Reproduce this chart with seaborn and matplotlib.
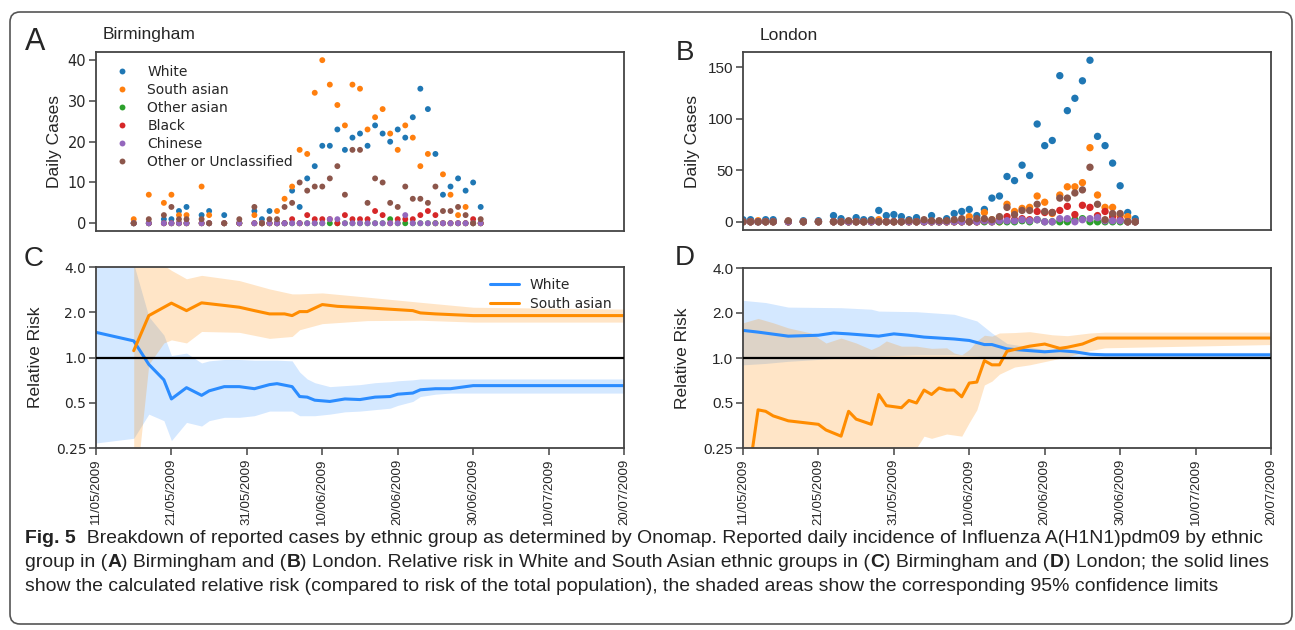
import pandas as pd
import seaborn as sns
import matplotlib.pyplot as plt
from matplotlib import font_manager
from matplotlib.patches import FancyBboxPatch
from matplotlib.transforms import IdentityTransform

W, H = 1295, 630
START = pd.Timestamp('2009-05-11')

groups = ['White', 'South asian', 'Other asian', 'Black', 'Chinese', 'Other or Unclassified']
group_colors = ['#1f77b4', '#ff7f0e', '#2ca02c', '#d62728', '#9467bd', '#8c564b']

# Birmingham daily cases (day = days after 11/05/2009)
bham_days = [5, 7, 9, 10, 11, 12, 14, 15, 17, 19, 21, 22, 23, 24, 25, 26, 27, 28, 29, 30, 31,
             32, 33, 34, 35, 36, 37, 38, 39, 40, 41, 42, 43, 44, 45, 46, 47, 48, 49, 50, 51]
bham_white = [0, 0, 1, 1, 3, 4, 2, 3, 2, 0, 3, 1, 3, 0, 0, 8, 4, 11, 14, 19, 19,
              23, 18, 21, 22, 19, 24, 22, 20, 23, 21, 26, 33, 28, 17, 7, 9, 11, 8, 10, 4]
bham_sasian = [1, 7, 5, 7, 2, 2, 9, 2, 0, 0, 2, 0, 0, 3, 6, 9, 18, 17, 32, 40, 34,
               29, 24, 34, 33, 23, 26, 28, 22, 18, 24, 21, 14, 17, 0, 12, 7, 2, 4, 0, 0]
bham_oasian = [0, 0, 0, 0, 0, 0, 0, 0, 0, 0, 0, 0, 0, 0, 0, 0, 0, 0, 0, 0, 0,
               0, 0, 0, 0, 0, 0, 0, 1, 0, 0, 0, 0, 0, 0, 0, 0, 0, 0, 0, 0]
bham_black = [0, 0, 0, 0, 0, 0, 0, 0, 0, 0, 0, 0, 0, 0, 0, 1, 0, 2, 1, 1, 1,
              0, 2, 1, 1, 1, 3, 2, 0, 1, 1, 1, 2, 3, 2, 0, 0, 0, 0, 1, 0]
bham_chinese = [0, 0, 0, 0, 0, 0, 0, 0, 0, 0, 0, 0, 0, 0, 0, 0, 0, 0, 0, 0, 1,
                1, 0, 0, 0, 0, 0, 0, 0, 0, 2, 0, 0, 0, 0, 0, 0, 0, 0, 0, 0]
bham_other = [0, 1, 2, 4, 1, 1, 1, 0, 0, 1, 4, 0, 1, 1, 4, 5, 10, 8, 9, 9, 11,
              14, 7, 18, 18, 5, 11, 10, 5, 4, 9, 6, 6, 5, 9, 3, 3, 4, 2, 0, 1]

# London daily cases
lon_days = [0, 1, 2, 3, 4, 6, 8, 10, 12, 13, 14, 15, 16, 17, 18, 19, 20, 21, 22, 23, 24, 25, 26,
            27, 28, 29, 30, 31, 32, 33, 34, 35, 36, 37, 38, 39, 40, 41, 42, 43, 44, 45, 46, 47,
            48, 49, 50, 51, 52]
lon_white = [2, 2, 0, 2, 2, 0, 1, 1, 6, 3, 0, 4, 2, 2, 11, 6, 7, 5, 2, 4, 0, 6, 0,
             3, 8, 10, 12, 6, 12, 23, 25, 44, 40, 55, 45, 95, 74, 79, 142, 108, 120, 137, 157, 83,
             74, 57, 35, 9, 3]
lon_sasian = [0, 0, 1, 0, 0, 0, 0, 0, 0, 0, 0, 0, 0, 0, 2, 0, 0, 0, 0, 0, 0, 0, 0,
              0, 0, 0, 5, 0, 9, 2, 0, 17, 10, 13, 14, 25, 19, 8, 26, 34, 34, 38, 72, 26,
              14, 14, 6, 5, 0]
lon_oasian = [0, 0, 0, 0, 0, 0, 0, 0, 0, 0, 0, 0, 0, 0, 0, 0, 0, 0, 0, 0, 0, 0, 0,
              0, 0, 0, 0, 0, 0, 0, 0, 0, 0, 1, 0, 2, 0, 0, 0, 0, 2, 3, 0, 0,
              0, 0, 0, 0, 0]
lon_black = [0, 0, 0, 0, 0, 0, 0, 0, 0, 0, 0, 0, 0, 0, 0, 0, 0, 0, 0, 0, 0, 0, 0,
             0, 0, 0, 0, 0, 1, 0, 3, 5, 2, 3, 2, 10, 9, 9, 11, 15, 7, 16, 14, 6,
             10, 5, 2, 0, 0]
lon_chinese = [0, 0, 0, 0, 0, 0, 0, 0, 0, 0, 0, 0, 0, 0, 0, 0, 0, 0, 0, 0, 0, 0, 0,
               0, 0, 0, 0, 0, 1, 0, 1, 1, 1, 2, 1, 2, 0, 0, 3, 3, 0, 2, 3, 4,
               1, 1, 1, 0, 0]
lon_other = [0, 0, 0, 0, 0, 1, 0, 0, 0, 0, 1, 0, 0, 1, 0, 0, 0, 0, 1, 0, 2, 1, 1,
             1, 2, 3, 0, 3, 3, 2, 5, 14, 7, 11, 11, 17, 10, 9, 23, 23, 28, 31, 53, 17,
             2, 8, 8, 0, 0]

# Relative risk, Birmingham
bw_days = [0, 5, 7, 9, 10, 12, 14, 15, 17, 19, 21, 23, 24, 26, 27, 28, 29, 31, 33, 35,
           37, 39, 40, 42, 43, 45, 47, 49, 50, 70]
bw_rr = [1.47, 1.29, 0.90, 0.71, 0.53, 0.63, 0.56, 0.60, 0.64, 0.64, 0.62, 0.66, 0.67, 0.64,
         0.55, 0.545, 0.52, 0.51, 0.53, 0.525, 0.545, 0.55, 0.57, 0.58, 0.61, 0.62, 0.62,
         0.64, 0.65, 0.65]
bw_lo = [0.27, 0.29, 0.42, 0.38, 0.28, 0.37, 0.35, 0.38, 0.40, 0.40, 0.41, 0.44, 0.44, 0.44,
         0.41, 0.41, 0.41, 0.42, 0.435, 0.44, 0.45, 0.46, 0.48, 0.51, 0.55, 0.57, 0.58, 0.58,
         0.58, 0.58]
bw_hi = [8.0, 4.2, 1.87, 1.41, 1.03, 1.07, 0.92, 0.95, 0.97, 0.97, 0.96, 0.96, 0.96, 0.95,
         0.80, 0.72, 0.68, 0.64, 0.65, 0.66, 0.68, 0.69, 0.70, 0.71, 0.72, 0.72, 0.72, 0.72,
         0.72, 0.72]
bs_days = [5, 7, 10, 12, 14, 17, 19, 21, 23, 25, 26, 27, 28, 30, 32, 36, 40, 42, 43, 45, 50, 70]
bs_rr = [1.11, 1.90, 2.30, 2.05, 2.31, 2.22, 2.16, 2.05, 1.95, 1.95, 1.90, 2.02, 2.02, 2.25,
         2.19, 2.14, 2.08, 2.05, 1.98, 1.95, 1.90, 1.90]
bs_band_days = [5, 6, 7, 9, 10, 12, 14, 19, 23, 26, 27, 30, 36, 43, 50, 70]
bs_lo = [0.10, 0.30, 0.90, 1.25, 1.31, 1.25, 1.49, 1.47, 1.34, 1.38, 1.53, 1.68, 1.76, 1.77,
         1.72, 1.72]
bs_hi = [6.0, 6.0, 6.0, 4.1, 3.8, 3.34, 3.52, 3.25, 2.86, 2.65, 2.65, 2.69, 2.52, 2.33, 2.16,
         2.10]

# Relative risk, London
lw_days = [0, 2, 6, 10, 12, 14, 18, 20, 22, 24, 28, 30, 32, 33, 35, 38, 40, 42, 44, 46, 48, 70]
lw_rr = [1.53, 1.49, 1.40, 1.42, 1.47, 1.45, 1.40, 1.45, 1.42, 1.38, 1.34, 1.31, 1.23, 1.23,
         1.15, 1.12, 1.10, 1.12, 1.10, 1.06, 1.05, 1.05]
lw_band_days = [0, 3, 6, 13, 17, 18, 23, 28, 31, 33, 35, 40, 46, 70]
lw_hi = [2.43, 2.35, 2.19, 2.17, 2.12, 2.06, 2.04, 1.96, 1.77, 1.47, 1.25, 1.14, 1.09, 1.09]
lw_lo = [0.90, 0.92, 0.95, 1.00, 1.02, 1.03, 1.05, 1.05, 1.03, 1.00, 0.98, 0.99, 1.02, 1.02]
ls_days = [1, 2, 3, 4, 6, 10, 11, 13, 14, 15, 17, 18, 19, 21, 22, 23, 24, 25, 26, 27, 28, 29,
           30, 31, 32, 33, 34, 35, 36, 38, 40, 42, 43, 45, 46, 47, 48, 70]
ls_rr = [0.20, 0.45, 0.44, 0.41, 0.38, 0.36, 0.33, 0.30, 0.44, 0.39, 0.36, 0.57, 0.48, 0.465,
         0.52, 0.50, 0.61, 0.57, 0.63, 0.61, 0.61, 0.55, 0.68, 0.69, 0.96, 0.90, 0.90, 1.11,
         1.14, 1.20, 1.24, 1.16, 1.18, 1.24, 1.30, 1.36, 1.36, 1.36]
ls_band_days = [0, 2, 4, 6, 9, 11, 13, 15, 17, 18, 19, 21, 23, 24, 25, 27, 28, 29, 30, 31, 32,
                33, 34, 36, 38, 41, 43, 46, 48, 70]
ls_hi = [1.72, 1.84, 1.72, 1.59, 1.47, 1.26, 1.36, 1.26, 1.14, 1.20, 1.30, 1.20, 1.20, 1.18,
         1.16, 1.17, 1.08, 1.05, 1.14, 1.30, 1.42, 1.40, 1.47, 1.48, 1.50, 1.43, 1.41, 1.47,
         1.49, 1.49]
ls_lo = [0.15, 0.15, 0.15, 0.15, 0.15, 0.15, 0.15, 0.15, 0.15, 0.15, 0.15, 0.15, 0.25, 0.30,
         0.29, 0.31, 0.305, 0.30, 0.37, 0.45, 0.66, 0.70, 0.78, 0.87, 0.90, 0.97, 1.02, 1.12,
         1.17, 1.23]

date_labels = ['11/05/2009', '21/05/2009', '31/05/2009', '10/06/2009',
               '20/06/2009', '30/06/2009', '10/07/2009', '20/07/2009']
rr_ticks = [0.25, 0.5, 1.0, 2.0, 4.0]
rr_labels = ['0.25', '0.5', '1.0', '2.0', '4.0']

caption = [
    [('Fig. 5', True), ('  Breakdown of reported cases by ethnic group as determined by Onomap. '
                        'Reported daily incidence of Influenza A(H1N1)pdm09 by ethnic', False)],
    [('group in (', False), ('A', True), (') Birmingham and (', False), ('B', True),
     (') London. Relative risk in White and South Asian ethnic groups in (', False), ('C', True),
     (') Birmingham and (', False), ('D', True), (') London; the solid lines', False)],
    [('show the calculated relative risk (compared to risk of the total population), the shaded '
      'areas show the corresponding 95% confidence limits', False)],
]

BLUE = '#2b8cff'
ORANGE = '#ff8c00'
SPINE = '#444444'
SANS = 'Liberation Sans'


def to_dates(days):
    return START + pd.to_timedelta(days, unit='D')


def long_cases(days, series):
    frames = [pd.DataFrame({'date': to_dates(days), 'cases': vals, 'group': g})
              for g, vals in zip(groups, series)]
    return pd.concat(frames, ignore_index=True)


def pick_font(names):
    for n in names:
        try:
            font_manager.findfont(font_manager.FontProperties(family=n), fallback_to_default=False)
            return n
        except Exception:
            pass
    return 'DejaVu Sans'


sns.set_theme(style='white')
plt.rcParams['font.family'] = ['DejaVu Sans']

fig = plt.figure(figsize=(W / 100, H / 100), dpi=100)


def axes_at(left, top, right, bottom):
    return fig.add_axes([left / W, 1 - bottom / H, (right - left) / W, (bottom - top) / H])


def style_axes(ax):
    for s in ax.spines.values():
        s.set_color(SPINE)
        s.set_linewidth(1.3)
    ax.tick_params(axis='both', which='both', direction='out', length=5, width=1.1,
                   color=SPINE, left=True, bottom=True, pad=2)
    ax.set_xlim(START, to_dates([70])[0])


tick_dates = pd.to_datetime(date_labels, format='%d/%m/%Y')

# ---- A: Birmingham daily cases
axA = axes_at(96, 52, 624, 231)
dfA = long_cases(bham_days, [bham_white, bham_sasian, bham_oasian, bham_black,
                             bham_chinese, bham_other])
sns.scatterplot(data=dfA, x='date', y='cases', hue='group', hue_order=groups,
                palette=group_colors, s=18, linewidth=0, ax=axA)
style_axes(axA)
axA.set_ylim(-1.9, 42)
axA.set_yticks([0, 10, 20, 30, 40])
axA.set_xticks([])
axA.set_xlabel('')
axA.set_ylabel('Daily Cases', fontsize=12.5, family=SANS)
axA.yaxis.set_label_coords(-0.064, 0.5)
axA.tick_params(axis='y', labelsize=10.5)
legA = axA.get_legend()
axA.legend(legA.legend_handles, [t.get_text() for t in legA.texts], loc='upper left',
           frameon=False, fontsize=10, labelspacing=0.3, handletextpad=0.8)

# ---- B: London daily cases
axB = axes_at(743, 52, 1271, 230)
dfB = long_cases(lon_days, [lon_white, lon_sasian, lon_oasian, lon_black,
                            lon_chinese, lon_other])
sns.scatterplot(data=dfB, x='date', y='cases', hue='group', hue_order=groups,
                palette=group_colors, s=28, linewidth=0, legend=False, ax=axB)
style_axes(axB)
axB.set_ylim(-8, 165)
axB.set_yticks([0, 50, 100, 150])
axB.set_xticks([])
axB.set_xlabel('')
axB.set_ylabel('Daily Cases', fontsize=12.5, family=SANS)
axB.yaxis.set_label_coords(-0.081, 0.5)
axB.tick_params(axis='y', labelsize=11)
for t in axB.get_yticklabels():
    t.set_family(SANS)


def rr_panel(ax, w_days, w_rr, w_bd, w_lo, w_hi, s_days, s_rr, s_bd, s_lo, s_hi, legend):
    ax.fill_between(to_dates(w_bd), w_lo, w_hi, color=BLUE, alpha=0.2, lw=0)
    ax.fill_between(to_dates(s_bd), s_lo, s_hi, color=ORANGE, alpha=0.22, lw=0)
    df = pd.concat([pd.DataFrame({'date': to_dates(w_days), 'rr': w_rr, 'group': 'White'}),
                    pd.DataFrame({'date': to_dates(s_days), 'rr': s_rr, 'group': 'South asian'})],
                   ignore_index=True)
    sns.lineplot(data=df, x='date', y='rr', hue='group', hue_order=['White', 'South asian'],
                 palette=[BLUE, ORANGE], linewidth=2.2, errorbar=None, legend=legend, ax=ax)
    ax.axhline(1.0, color='black', lw=1.6, zorder=3)
    style_axes(ax)
    ax.set_yscale('log', base=2)
    ax.set_ylim(0.25, 4.0)
    ax.set_yticks(rr_ticks)
    ax.set_yticklabels(rr_labels)
    ax.minorticks_off()
    ax.set_xticks(tick_dates)
    ax.set_xticklabels(date_labels, rotation=90, family=SANS, fontsize=9.5)
    ax.tick_params(axis='x', pad=2.5)
    ax.set_xlabel('')
    ax.set_ylabel('Relative Risk', fontsize=12.5, family=SANS)
    ax.yaxis.set_label_coords(-0.100, 0.5)


# ---- C: Birmingham relative risk
axC = axes_at(96, 267, 624, 448)
rr_panel(axC, bw_days, bw_rr, bw_days, bw_lo, bw_hi, bs_days, bs_rr, bs_band_days, bs_lo, bs_hi,
         legend=True)
axC.tick_params(axis='y', labelsize=10)
legC = axC.get_legend()
axC.legend(legC.legend_handles, [t.get_text() for t in legC.texts], loc='upper right',
           frameon=False, fontsize=10, handlelength=2.1, labelspacing=0.35,
           bbox_to_anchor=(1.0, 1.01))

# ---- D: London relative risk
axD = axes_at(743, 268, 1271, 448)
rr_panel(axD, lw_days, lw_rr, lw_band_days, lw_lo, lw_hi, ls_days, ls_rr, ls_band_days, ls_lo,
         ls_hi, legend=False)
axD.tick_params(axis='y', labelsize=11)
for t in axD.get_yticklabels():
    t.set_family(SANS)

# panel letters and titles
for letter, (x, y), size in [('A', (35, 42), 22), ('B', (685, 53), 20),
                             ('C', (34, 259), 20), ('D', (685, 258), 20)]:
    fig.text(x / W, 1 - y / H, letter, ha='center', va='center', fontsize=size, family=SANS)
fig.text(103 / W, 1 - 35 / H, 'Birmingham', ha='left', va='center', fontsize=12.5, family=SANS)
fig.text(760 / W, 1 - 35 / H, 'London', ha='left', va='center', fontsize=12.5, family=SANS)

# caption
cap_font = pick_font(['Liberation Sans Narrow', 'DejaVu Sans Condensed', 'Liberation Sans'])
renderer = fig.canvas.get_renderer()


def run_width(s, size, bold):
    kw = dict(fontsize=size, family=cap_font, fontweight='bold' if bold else 'normal')
    a = fig.text(0, 0, '|' + s + '|', **kw)
    b = fig.text(0, 0, '||', **kw)
    w = a.get_window_extent(renderer).width - b.get_window_extent(renderer).width
    a.remove()
    b.remove()
    return w


base = 12.0
w1 = sum(run_width(s, base, b) for s, b in caption[0])
cap_size = base * 1240 / w1
for line, y in zip(caption, [543, 567, 591]):
    x = 25.0
    for s, b in line:
        fig.text(x / W, 1 - y / H, s, ha='left', va='baseline', fontsize=cap_size,
                 family=cap_font, fontweight='bold' if b else 'normal', color='#222222')
        x += run_width(s, cap_size, b)

# rounded frame around figure + caption
frame = FancyBboxPatch((10, H - 624), 1282, 612, boxstyle='round,pad=0,rounding_size=10',
                       transform=IdentityTransform(), fill=False, edgecolor='#555555', lw=1.2)
fig.add_artist(frame)

fig.savefig('out.png', dpi=100)
